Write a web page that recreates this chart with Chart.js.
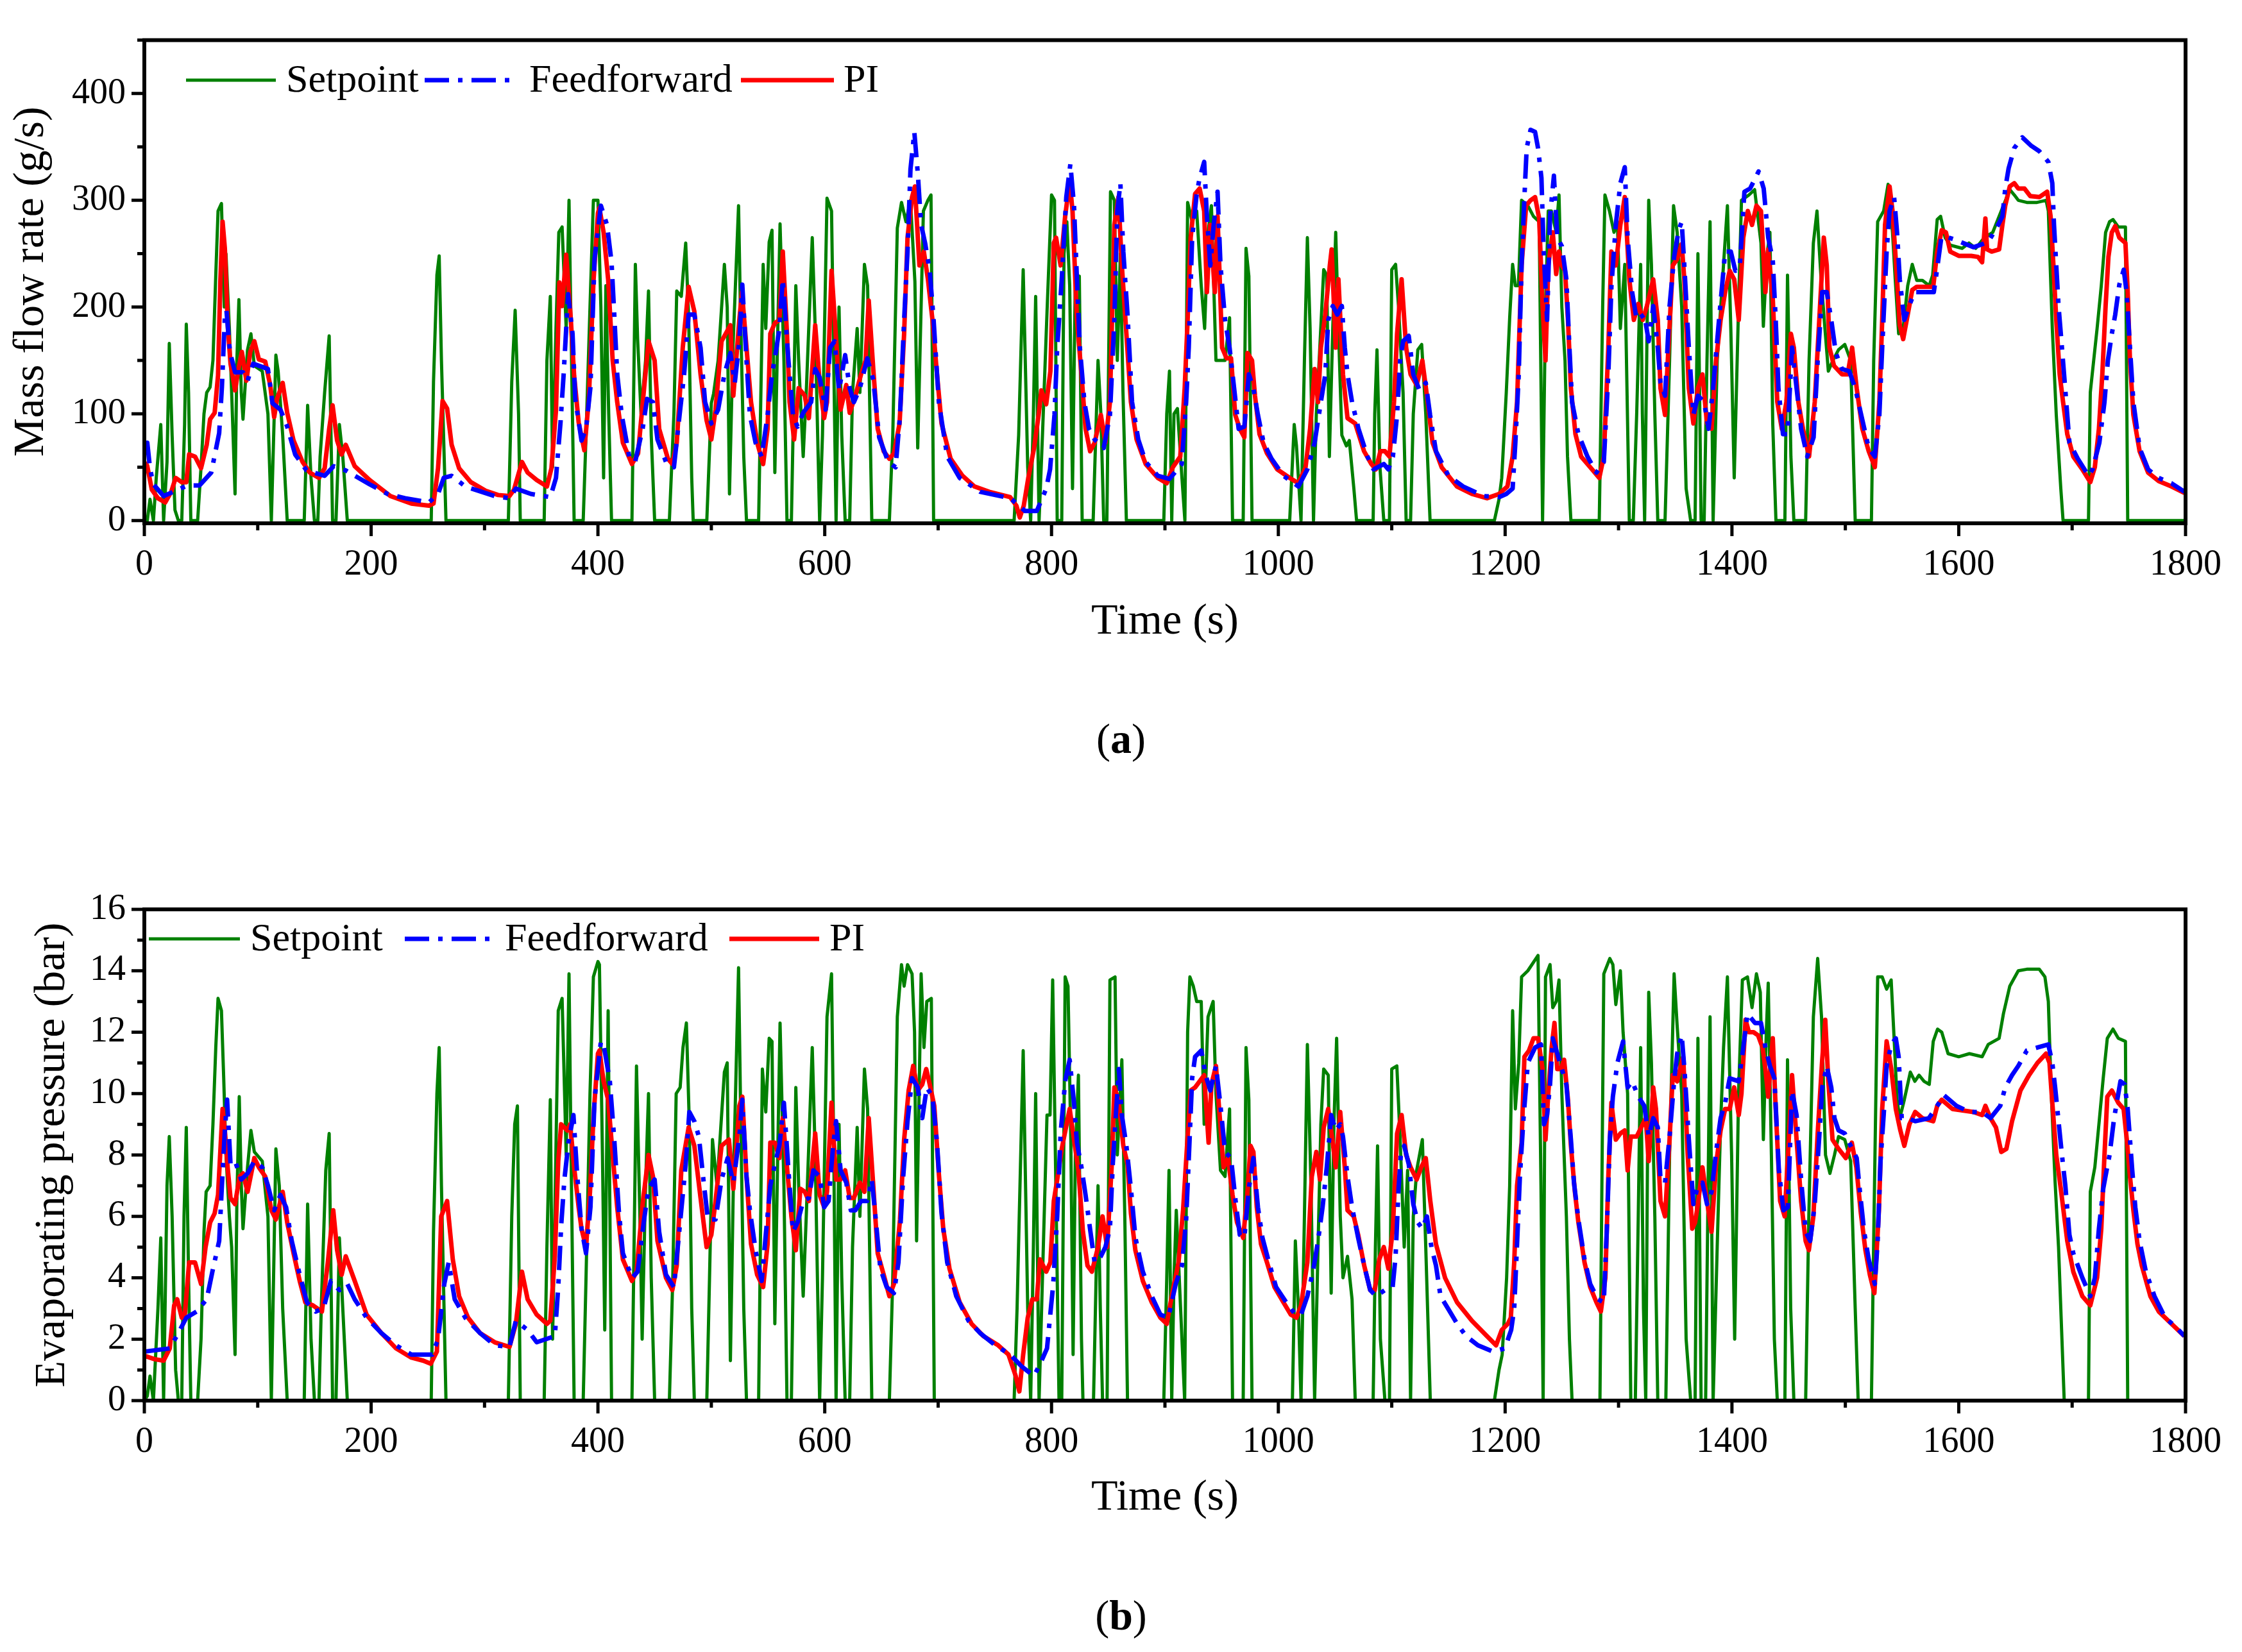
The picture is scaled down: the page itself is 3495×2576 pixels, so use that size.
<!DOCTYPE html>
<html>
<head>
<meta charset="utf-8">
<script src="https://cdn.jsdelivr.net/npm/chart.js@4.4.1/dist/chart.umd.min.js"></script>
<style>
html, body { margin: 0; padding: 0; background: #fff; }
body { width: 3495px; height: 2576px; position: relative; overflow: hidden; font-family: "Liberation Serif", "Times New Roman", serif; }
.box { position: absolute; left: 0; width: 3495px; }
#boxA { top: 0; height: 1050px; }
#boxB { top: 1290px; height: 1110px; }
.cap { position: absolute; left: 0; width: 3495px; text-align: center; font-size: 66px; line-height: 1; color: #000; }
</style>
</head>
<body>
<div id="boxA" class="box"><canvas id="chartA"></canvas></div>
<div id="boxB" class="box"><canvas id="chartB"></canvas></div>
<div class="cap" style="top:1119px">(<b>a</b>)</div>
<div class="cap" style="top:2486px">(<b>b</b>)</div>
<script>
// tick labels
const timeLabels = [0, 200, 400, 600, 800, 1000, 1200, 1400, 1600, 1800];
const flowLabels = [0, 100, 200, 300, 400];
const pressLabels = [0, 2, 4, 6, 8, 10, 12, 14, 16];
const seriesNames = ["Setpoint", "Feedforward", "PI"];

// (a) mass flow rate, [time s, g/s]
const flowSetpoint = [
  [0,0],[2.6,0],[5,20],[8,0],[10.5,40],[14.5,90],[17,0],[20,55],[22,166],[24.5,80],[27,10],[30,0],[33,0],
  [35.5,90],[37,184],[39,120],[41,0],[47,0],[50,50],[52.6,100],[55,120],[58,125],[60.5,150],[63,230],[65,290],
  [68,297],[70.5,200],[72,250],[75,180],[77,120],[80,25],[81.6,150],[83.4,207],[85.5,120],[87,95],[91,160],
  [94,175],[97,145],[104,140],[109,100],[112,0],[116,155],[118,140],[122,80],[126,0],[141,0],[144,108],[147,40],
  [150,0],[153,0],[155,60],[159,120],[163,173],[166,0],[169,0],[172,90],[175,60],[179,0],[253,0],[255,130],
  [258,230],[260,248],[262,150],[266,0],[321,0],[324,130],[327,197],[330,100],[331.5,0],[352.6,0],[355,150],
  [358,210],[360,50],[363,180],[365.5,270],[368.4,275],[372,180],[374.5,300],[376,200],[379,0],[387,0],
  [389.5,80],[393,200],[396,300],[400,300],[402.6,200],[405,40],[407,220],[409.5,100],[412,0],[430,0],[433,240],
  [435,170],[438,100],[442,150],[444.6,215],[447,80],[450,0],[463,0],[467,100],[469.5,215],[473.5,210],
  [477.4,260],[480,190],[482.7,40],[484,0],[496,0],[500,110],[502,119],[506,150],[511.5,240],[514,200],[516,25],
  [519,160],[524,295],[525.6,200],[528.6,60],[531,0],[541.7,0],[545.7,240],[548,180],[551,261],[553.5,272],
  [556,45],[559,200],[560.6,278],[564,150],[566.7,0],[570.6,0],[574.5,220],[577,150],[581,60],[583.7,120],
  [589,265],[591.6,180],[595.5,0],[598,80],[602,302],[606,290],[610,0],[612.6,200],[615,80],[618,0],[622,0],
  [624.5,120],[628.6,180],[631,120],[635,240],[637.8,220],[641.5,0],[657,0],[660,80],[664,274],[667.7,298],
  [671.6,280],[675.6,300],[679.5,224],[682,68],[687,290],[691,300],[693.7,305],[696,0],[767,0],[771,80],
  [775,235],[779,50],[781.6,0],[784,100],[786,210],[789,0],[792,80],[796,195],[800,305],[802.6,300],[805,0],
  [809,0],[811,250],[813.5,280],[816,220],[818.5,30],[821,230],[824.5,229],[827,0],[836.7,0],[841,150],
  [843.5,100],[846,0],[848.8,0],[852,308],[855.4,300],[858,150],[860.7,250],[863,120],[866,0],[899,0],
  [901.6,100],[904,140],[906,0],[908,100],[911,105],[915,40],[917.6,0],[920,298],[924,280],[928,290],[932,220],
  [935,180],[938,270],[941,295],[945,150],[949,150],[953,150],[957,190],[959.6,0],[969,0],[971.5,255],
  [974,229],[976.8,0],[1010,0],[1014,90],[1016,70],[1020,0],[1023,150],[1025.6,265],[1028,180],[1031,0],
  [1033.5,100],[1036,150],[1040,235],[1042.6,230],[1045,60],[1048,180],[1050.6,270],[1053,180],[1056,80],
  [1060,70],[1062.6,75],[1066.6,30],[1069,0],[1083.6,0],[1085,100],[1087,160],[1089.6,50],[1093,0],[1098,0],
  [1100,235],[1103.4,240],[1106,200],[1110,120],[1112.7,0],[1116.6,0],[1119,100],[1123,160],[1126.4,165],
  [1130,100],[1133.8,0],[1190.5,0],[1194.6,20],[1197,40],[1201,120],[1204,190],[1206.6,240],[1209,220],
  [1211.7,220],[1214.5,300],[1220,295],[1225,285],[1230,280],[1233,0],[1235.6,200],[1238,290],[1240.8,290],
  [1245,270],[1247.5,305],[1250,200],[1252.8,150],[1255,60],[1258,0],[1283,0],[1286,200],[1288,305],[1292,290],
  [1296,270],[1299,280],[1301.6,180],[1305.5,240],[1309.5,0],[1313,0],[1316,100],[1319.5,240],[1321,100],
  [1323,0],[1326.6,300],[1329,240],[1332,100],[1334.6,0],[1341,0],[1345,150],[1348.5,295],[1351.7,270],
  [1355.7,200],[1359.6,30],[1363.6,0],[1367.5,0],[1370,250],[1372.8,0],[1375.5,0],[1378,150],[1380.7,280],
  [1383.4,0],[1387,150],[1392.6,240],[1396,295],[1399,180],[1402,40],[1405.8,200],[1408.4,300],[1415,305],
  [1420,310],[1425.6,260],[1427.7,182],[1431,250],[1433.5,270],[1436,90],[1438.8,0],[1446.7,0],[1449,230],
  [1452,60],[1454.6,0],[1465,0],[1468,150],[1471.8,260],[1475,290],[1478.4,230],[1482,180],[1485,140],
  [1489,150],[1494,160],[1499.5,165],[1504.7,150],[1508.7,0],[1523,0],[1525,150],[1528.5,280],[1533.8,290],
  [1537.7,315],[1541.6,270],[1544,226],[1547,175],[1551,180],[1555,220],[1559,240],[1563,225],[1568,225],
  [1574,220],[1577,230],[1581,282],[1584,285],[1588,265],[1592.5,258],[1603,255],[1609,260],[1615,255],
  [1622.5,265],[1630,270],[1637.5,290],[1645,310],[1649,305],[1652.5,300],[1660,298],[1669,298],[1677,300],
  [1679,290],[1682.5,180],[1686,99],[1690,30],[1692,0],[1714.4,0],[1716,120],[1719,150],[1722,180],
  [1725.7,220],[1729.5,270],[1733,280],[1736,282],[1740.7,275],[1747,275],[1749,0],[1800,0]
];
const flowFeedforward = [
  [1,70],[2.6,73],[5,49],[8,34],[17,23],[27.6,28],[38,33],[48.7,33],[59,45],[66,82],[68.4,125],[71,190],
  [72.4,197],[75.5,158],[80,139],[87,139],[91,131],[96,147],[109,142],[113,110],[120,104],[126,88],[133,62],
  [143,47],[159,42],[167,51],[177.6,47],[198.7,34],[214.5,25],[230,21],[251,17],[259,25],[264,40],[271,42],
  [283,32],[309,23],[322,21],[327.6,30],[341,25],[358,22],[363,40],[367,92],[369.7,136],[373.7,212],
  [377.6,175],[380,114],[385.5,75],[389.5,86],[393.4,125],[397,245],[402.6,295],[408,277],[412,242],
  [414.4,193],[417,137],[421,99],[427.6,60],[432.8,55],[439.4,86],[443.3,114],[448.5,111],[452.5,76],[460,55],
  [467,50],[472,99],[476,137],[480,193],[485,193],[490.5,162],[494.5,111],[500,91],[506,104],[511.5,137],
  [516.8,157],[520.7,129],[524.7,168],[527.3,221],[531,150],[534,99],[539,73],[544.4,60],[549.6,99],
  [553.5,137],[557.5,162],[560,180],[563,226],[568,150],[572,99],[576,88],[581,101],[588,111],[591.6,142],
  [595.5,134],[600.8,104],[604.7,162],[608.7,168],[612.6,122],[618,155],[622,124],[625.7,111],[631,124],
  [637.5,152],[642.8,132],[648,78],[656,55],[662.5,50],[666.4,99],[670,188],[673,252],[675.6,329],[679,364],
  [682,326],[685,277],[688.5,260],[692.6,234],[696,188],[700.6,111],[708,60],[719,40],[737,27],[763.5,21],
  [771.5,14],[776.6,9],[787,9],[795.3,30],[798.7,48],[802.6,99],[805,162],[809,226],[813,303],[816.6,334],
  [819.8,295],[822.4,226],[825,162],[829,111],[833,86],[838,76],[846,68],[851.5,99],[855.4,188],[858,290],
  [860.7,316],[863.3,252],[867,193],[871,111],[876.5,76],[883,55],[893.7,42],[904,39],[914.8,53],[918.7,111],
  [921,162],[924,265],[928,306],[930.6,321],[934.6,336],[937,285],[940,239],[943,277],[946.4,308],[949,239],
  [953,188],[957,162],[961,124],[965,86],[970,88],[974,137],[978,124],[982,99],[987,73],[994,58],[1004.5,42],
  [1017.7,32],[1025.6,48],[1032,73],[1037.5,111],[1041.4,137],[1044,188],[1048,201],[1052,193],[1056,201],
  [1058.6,162],[1061,137],[1065,111],[1070.7,86],[1078.6,60],[1084,48],[1093,53],[1097,48],[1101,60],
  [1104.7,99],[1107.4,150],[1110,168],[1115,173],[1119,137],[1124.5,122],[1130,129],[1133.8,99],[1139,65],
  [1150,42],[1163,32],[1181,23],[1194.6,22],[1201,25],[1206.6,30],[1209,73],[1212,137],[1214.5,239],
  [1217,303],[1219,349],[1222.4,366],[1226.4,364],[1229,349],[1232,321],[1234,252],[1237,188],[1239.6,285],
  [1243,323],[1246,265],[1250,257],[1254,226],[1256.7,162],[1259,111],[1264.6,81],[1272.6,60],[1280.5,45],
  [1287,55],[1291,137],[1293.7,219],[1297.6,277],[1301.6,316],[1305.5,331],[1308,265],[1312,214],[1316,188],
  [1322.7,193],[1326.6,168],[1330.6,201],[1334.6,162],[1337,129],[1341,117],[1345,201],[1349,247],[1353,272],
  [1355.7,280],[1358,239],[1362,162],[1366,99],[1370,117],[1375.5,111],[1379.4,86],[1383.4,124],[1388.6,188],
  [1394,252],[1399,252],[1403,234],[1407,239],[1411,308],[1416,311],[1423.5,327],[1428,311],[1432,265],
  [1436,244],[1438.6,188],[1441,124],[1445,81],[1449,81],[1453,162],[1457,124],[1461,86],[1466.4,60],[1472,78],
  [1475.6,150],[1479.6,214],[1483.6,214],[1487.6,188],[1491.6,157],[1497,142],[1503.4,140],[1508.7,124],
  [1514,99],[1520.6,68],[1526,60],[1530,99],[1532.5,162],[1536.4,252],[1539,290],[1543,303],[1545.6,270],
  [1548,226],[1552,188],[1557,203],[1561,214],[1578,214],[1580.7,234],[1584.6,265],[1588.6,266],[1597,263],
  [1613,256],[1626,261],[1633.8,275],[1638.5,285],[1641,311],[1644,330],[1649,349],[1656,359],[1664,351],
  [1671,346],[1679,336],[1682.5,316],[1684,277],[1686,239],[1688,201],[1691,162],[1694,122],[1697.6,73],
  [1705,58],[1714.4,42],[1718,48],[1724,73],[1728.5,111],[1731.5,150],[1735,175],[1738,193],[1741.6,221],
  [1745.5,235],[1748,214],[1751,162],[1754,111],[1759.5,68],[1767,48],[1776.4,40],[1787.6,35],[1799,27]
];
const flowPI = [
  [1,55],[2.6,51],[6.6,29],[12,21],[18.4,17],[23.7,27],[27.6,40],[33,36],[37,36],[39.5,62],[44.7,60],[50,49],
  [55,71],[58,95],[62,101],[65,136],[67,223],[69,280],[71,255],[73.7,180],[76,147],[80,122],[83,142],[86,158],
  [90,131],[93.4,158],[97,168],[101,151],[106.6,149],[111,127],[114.5,97],[117,114],[122,129],[126,101],
  [131.6,75],[139.5,55],[146,45],[154,40],[159,49],[163,86],[166,108],[170,75],[174,62],[177.6,71],[185.5,51],
  [198.7,38],[217,23],[235.5,16],[251,14],[255,16],[259,49],[263,112],[267,105],[271,71],[277.6,49],[288,36],
  [301,28],[312,24],[322,23],[326,29],[333,55],[338,45],[346,38],[355,32],[359,49],[363,103],[366,223],
  [368.4,201],[372,249],[376,190],[379,136],[383,92],[388,66],[392,114],[396,223],[400,288],[401.3,293],
  [405,270],[409,226],[413,150],[417,111],[422,73],[430,53],[435.4,63],[440.7,124],[444.6,168],[450,150],
  [454,86],[461.7,58],[465.6,53],[469.5,73],[474.8,162],[480,219],[485,196],[490.5,137],[495.8,94],[500,76],
  [503.7,104],[509,168],[516.8,183],[519.4,117],[524.7,188],[527,214],[531,162],[535,111],[540.4,73],
  [545.7,53],[549.6,86],[552,175],[556,185],[560,188],[563,252],[566.7,175],[569,111],[573,76],[577,124],
  [582.4,117],[586,96],[591.6,183],[595.5,129],[599.5,96],[602,111],[606,234],[610,170],[614,104],[619,127],
  [622,101],[627,117],[632,137],[636,150],[638.8,206],[642.8,142],[646.7,86],[652,65],[657,58],[661,63],
  [666,91],[670,175],[673,265],[677,303],[679.5,313],[683.5,239],[687.4,252],[691,226],[695,188],[699,137],
  [703,91],[711,58],[721.5,42],[732,32],[745,27],[763.5,22],[769,14],[772,3],[775.5,14],[779.5,40],[784.6,68],
  [788.6,99],[791,122],[795.3,109],[799,140],[802,260],[804,265],[808,239],[812,285],[816,318],[818.5,290],
  [822.4,188],[826.4,137],[830,86],[834,65],[838,73],[843.5,99],[847.5,73],[851.5,111],[855.4,277],[859,303],
  [862,239],[866,175],[870,111],[875,76],[883,53],[893.7,40],[901.6,35],[907,50],[913.5,60],[917.4,124],
  [920,188],[922.7,265],[926.6,306],[930.6,311],[934.6,290],[937,214],[940,277],[944,214],[946.4,285],
  [950.4,162],[954.4,152],[958.3,152],[962,99],[966,86],[970,78],[972.8,157],[976.8,150],[979.4,117],
  [983.4,81],[990,63],[999,48],[1010,40],[1017.7,35],[1024,50],[1028,86],[1032,142],[1035,111],[1037.5,162],
  [1041.4,193],[1045.4,239],[1047,254],[1050.6,162],[1053,226],[1057,137],[1061,96],[1067.8,91],[1075.6,65],
  [1082,53],[1086,48],[1090,65],[1094,65],[1098,60],[1102,111],[1104.7,175],[1108.7,226],[1112.7,162],
  [1116.6,137],[1122,127],[1127,150],[1131,117],[1136,73],[1144,50],[1157.5,32],[1170.7,25],[1184,21],
  [1194.6,25],[1202,32],[1206.6,60],[1210.5,111],[1214.5,239],[1218.5,295],[1222.4,300],[1226.4,303],
  [1230,283],[1233,201],[1235.6,150],[1238,239],[1242,270],[1245,231],[1247.5,252],[1250,239],[1252.8,234],
  [1255.4,188],[1258,124],[1262,81],[1267,60],[1275,50],[1283,40],[1287,60],[1291,162],[1293.7,252],
  [1297.6,239],[1301.6,277],[1305.5,303],[1309.5,226],[1313.5,188],[1317.4,203],[1321.4,188],[1325,201],
  [1330.6,226],[1334.6,188],[1337,124],[1341,99],[1344,162],[1347.8,239],[1351.7,245],[1355.7,259],[1358,226],
  [1362,124],[1366,91],[1370,124],[1374,137],[1378,91],[1382,86],[1386,150],[1390,188],[1394,214],[1398,234],
  [1402,226],[1406,188],[1410,265],[1414,290],[1417.7,277],[1421.6,295],[1425.6,290],[1429.5,214],[1432,254],
  [1436,208],[1440,111],[1444,86],[1448,111],[1452,175],[1454.6,162],[1458.6,111],[1462.6,86],[1468,60],
  [1473,111],[1477,188],[1481,265],[1483.6,239],[1486,162],[1490,145],[1497,137],[1502,137],[1506,162],
  [1510,124],[1515,86],[1520.6,65],[1526,50],[1530,111],[1532.5,188],[1535,277],[1539,313],[1541.6,290],
  [1545.6,226],[1548,183],[1551,170],[1555,193],[1559,216],[1563,219],[1577.5,219],[1581,252],[1585,272],
  [1588.7,270],[1592.5,252],[1600,248],[1611,248],[1617,247],[1620.6,242],[1623.5,283],[1625,254],[1629,252],
  [1635.6,254],[1638.5,277],[1641,295],[1645,313],[1649,316],[1652.5,311],[1658,311],[1663,304],[1671,303],
  [1678,308],[1681,285],[1683.5,239],[1686,188],[1689,137],[1692,111],[1695.7,81],[1701,60],[1709,48],
  [1716,36],[1720,50],[1723.6,86],[1726.6,137],[1729.5,201],[1732,247],[1735,270],[1738,276],[1741.6,265],
  [1747,260],[1749,214],[1751,150],[1754,99],[1759.5,65],[1767,45],[1776.4,37],[1787.6,32],[1799,26]
];

// (b) evaporating pressure, [time s, bar]
const pressSetpoint = [
  [0,0],[2.6,0.15],[5,0.8],[8,0],[12,3],[14.5,5.3],[17,0],[20,7],[22,8.6],[24.5,6],[27.6,1],[30,0],[33,0],
  [35,6],[37,8.9],[39,4],[41,0],[47,0],[50,2],[52.6,5.5],[54.5,6.8],[58,7],[60.5,9],[63,11.5],[65,13.1],
  [68,12.7],[70,10.5],[72,8],[75,6],[77,5],[80,1.5],[81.6,6.5],[83.7,9.9],[85.5,7],[87,5.6],[91,7.6],[94,8.8],
  [97,8.1],[104,7.8],[109,6],[112,0],[116,8.2],[119,7],[122,3],[126,0],[141,0],[144,6.4],[147,2],[150,0],
  [154,0],[156,3],[160,7.5],[163,8.7],[166,0],[169,0],[172,5.3],[175,3],[179,0],[253,0],[255,5.5],[258,10],
  [260,11.5],[262,7],[266,0],[321,0],[324,6],[326.6,9],[329,9.6],[331.5,0],[352.6,0],[355,5],[358,9.8],[360,2],
  [362,6],[365,12.7],[368.4,13.1],[372,8],[374.5,13.9],[376,9],[379,0],[387,0],[389.5,4],[393,10],[396,13.8],
  [400,14.3],[401.3,14.2],[404,8],[406,2.3],[409,12.7],[412,0],[430,0],[434,10.9],[437,6],[439,2],[442,7],
  [444.6,10],[447,4],[450,0],[463,0],[466,4],[469,10],[472.5,10.2],[475,11.5],[478,12.3],[480.6,9],[482.7,3],
  [485,0],[496,0],[498.4,4],[501,8.5],[505,7],[511.5,10.7],[514,11],[516.8,1.3],[519.4,7],[524,14.1],
  [525.6,10],[528.6,3],[531,0],[541.7,0],[545,10.8],[548,9.4],[551,11.8],[553.5,11.7],[556,2.5],[559,9],
  [560.6,12.3],[564,7],[566.7,0],[570.6,0],[574.5,10.2],[577,7],[581,3.4],[583.7,6],[589,11.5],[591.6,8],
  [595.5,0],[598,4],[602,12.5],[606,13.9],[608,8],[610,0],[612.6,9],[615,4],[618,0],[622,0],[624.5,5],
  [628.6,8.9],[631,6],[635,10.8],[637.8,9.5],[641.5,0],[657,0],[660,4],[664,12.5],[667.7,14.2],[670,13.5],
  [673,14.2],[677,13.9],[679.2,12],[681,5.2],[685,13.9],[687.5,11.5],[690,13],[694,13.1],[696.6,0],[767,0],
  [769.6,3],[775,11.4],[779,3],[781.6,0],[784,5],[786,10],[789,0],[792,4],[796,9.3],[798.7,9.3],[801,13.7],
  [803.4,8],[806.6,0],[809,0],[812,13.8],[814.5,13.5],[817,8.5],[819,1.5],[821,8],[823.7,10.6],[826.4,2],
  [827.7,0],[837,0],[841,7],[843,3],[845,0],[849,0],[851.5,13.7],[856,13.8],[858,8],[862,11.1],[864.6,6],
  [867,0],[899,0],[901.6,4],[903.6,7.5],[906,0],[908,4],[910,6.2],[915,2],[917.4,0],[920,12],[922,13.8],
  [925,13.5],[928,13],[932,13],[934.6,9],[938,12.5],[942.5,13],[945,10],[949,7.5],[953,7.3],[957,9.5],
  [959.6,0],[969,0],[971.5,11.5],[974,9.8],[976.8,0],[1012.4,0],[1015,5.2],[1017.7,3],[1020,0],[1023,6],
  [1025.6,11.6],[1028.8,7],[1032,0],[1035,5],[1037.5,9],[1040,10.8],[1044,10.6],[1046.6,3.5],[1049,9],
  [1051.4,11.8],[1054.6,6],[1057,4],[1061,4.7],[1065,3.3],[1067.8,0],[1083.6,0],[1085.6,5],[1087.5,8.3],
  [1090,2],[1094,0],[1098,0],[1100,10.8],[1104.5,10.9],[1107.4,8.5],[1111,5],[1114,7.5],[1116.6,0],[1119,6],
  [1122,7.5],[1127,8.5],[1130,5],[1134,0],[1190.5,0],[1194.6,1],[1197.4,1.5],[1201.3,4],[1204,7],[1206.6,12.7],
  [1209,9.5],[1212,11],[1214.5,13.8],[1220,14],[1229,14.5],[1231.6,7],[1233.5,0],[1235.6,13.8],[1239.6,14.2],
  [1242,12.8],[1245,13],[1247.5,13.7],[1250,10],[1254,6],[1256.7,2],[1259,0],[1283.6,0],[1285.8,9],[1287,13.9],
  [1292.3,14.4],[1295,14.2],[1297.6,12.9],[1301.6,14],[1304,12],[1308,10],[1310.8,0],[1314.8,0],[1317.4,6],
  [1319.5,11.5],[1322,3],[1324,0],[1326.6,13.3],[1329,11],[1332,6],[1334.6,0],[1341.7,0],[1345,8],[1349,13.9],
  [1351.7,12.2],[1355.7,10],[1359.6,2],[1363.6,0],[1367.5,0],[1370,11.8],[1372.8,0],[1376.8,0],[1380.7,12.5],
  [1383.4,0],[1387,5],[1390,9],[1392.6,11.5],[1396,13.8],[1399.7,8],[1402.4,2],[1405.8,10],[1409.2,13.7],
  [1413.7,13.8],[1417.7,12.8],[1421.6,13.9],[1425,13.3],[1427.7,8.5],[1430.3,12],[1432,13.6],[1434.8,8],
  [1437.4,2],[1440,0],[1446.7,0],[1449,11.1],[1451.8,3],[1454.6,0],[1465,0],[1467.8,6],[1471.8,12.5],
  [1475.6,14.4],[1479,12.5],[1482.5,8],[1486.4,7.4],[1490.4,8],[1494,8.6],[1499.5,8.5],[1504.7,7.8],
  [1508.7,3],[1511.3,0],[1523,0],[1525.3,6],[1528.5,13.8],[1532.5,13.8],[1536.4,13.4],[1540.4,13.7],
  [1543,11.8],[1545.6,9.8],[1548,9.2],[1552,9.8],[1557.3,10.7],[1561.3,10.4],[1565,10.6],[1569.4,10.4],
  [1574,10.3],[1577.5,11.7],[1581.3,12.1],[1585,12],[1590.6,11.3],[1600,11.2],[1609.4,11.3],[1620.6,11.2],
  [1626,11.6],[1635.6,11.8],[1639.4,12.6],[1645,13.5],[1652.5,14],[1660,14.05],[1671,14.05],[1676,13.8],
  [1679,13],[1681.6,10],[1685,7.1],[1688,5],[1691,2],[1693,0],[1714.4,0],[1716,6.8],[1720,7.6],[1723.6,9],
  [1727.4,10.5],[1731,11.8],[1736,12.1],[1740.7,11.8],[1747,11.7],[1749,0],[1800,0]
];
const pressFeedforward = [
  [1,1.6],[22.4,1.7],[30,2.2],[37,2.7],[46,2.9],[55,3.3],[60,4.2],[66,5.2],[68.4,7],[71,8.8],[73,9.8],[76,7.7],
  [80,7.8],[85.5,7.2],[91,7.4],[97,7.8],[104,7.6],[109,7],[114.5,6.2],[120,6.7],[125,6.3],[130,5.2],[137,4.1],
  [143.4,3.2],[151,2.9],[158,3],[164.5,3.9],[172,3.6],[179,3.8],[185.5,3.3],[196,2.7],[209,2.2],[222,1.8],
  [235.5,1.5],[254,1.5],[259,2],[264.5,3.8],[268.4,4.5],[273.7,3.3],[283,2.7],[296,2.2],[309,1.8],[322,1.75],
  [327.6,2.6],[338,2.3],[346,1.9],[362,2.1],[365,3.7],[367.6,5.7],[370.4,7.2],[374,8.4],[378.4,9.3],
  [381.6,7.4],[385.5,5.6],[389.5,4.8],[393.4,6.3],[397,9.8],[402.6,11.7],[405,11.6],[410.5,10.4],[414.4,8.5],
  [418.4,6.2],[422,4.8],[430,4],[435,4.2],[440.7,5.9],[444.6,6.9],[450,7.2],[454,5.5],[460,4.1],[467,3.7],
  [473.5,6.2],[477.4,7.7],[480.6,9.4],[485,9.1],[489,8.6],[493,7.2],[497,5.9],[503.7,5.9],[509,7.2],
  [514.4,7.9],[519.4,7.1],[524.7,8.6],[527.3,9.8],[531,7.3],[534,6.2],[539,4.9],[544.4,3.9],[548,5.4],[552,7],
  [556,7.7],[560,8.3],[564,9.7],[568,7.5],[572,5.5],[576,5.8],[581,6.5],[586,6.6],[590,7.5],[595.5,7.3],
  [599.5,6.3],[603.4,6.5],[607.4,8.3],[610,9.1],[614,7.5],[619,7.1],[623,6.2],[627,6.2],[632,6.5],[637.5,6.5],
  [641.5,7.2],[645,5.9],[649,4.3],[654.6,3.7],[661,3.5],[665,4.5],[669,7.2],[673,9.1],[677,10.5],[682,10.2],
  [686,9.2],[690,10.2],[695,9.9],[699,8.4],[703,6.1],[708,4.5],[716,3.4],[726.8,2.6],[737,2.2],[750.4,1.8],
  [763.5,1.5],[774,1.1],[784.5,0.8],[790,1.2],[796,1.7],[801.5,3.8],[805,6],[808,8.7],[812,10.4],[816,11.1],
  [819.8,9.7],[822.4,8.4],[826.4,7.6],[830,6.7],[834.3,5.5],[838,4.5],[843.5,4.7],[847.5,5],[851.5,5.6],
  [854,7.7],[856.7,9.3],[859.4,10.8],[862,9.3],[866,8.3],[870,6.9],[874,5.3],[880.5,4.2],[888.4,3.4],[896,2.8],
  [903,2.7],[909.5,3.8],[915,4.4],[918.7,5.9],[921.4,8.2],[924,10.5],[926.6,11.2],[932,11.4],[935.9,10.6],
  [940,10.1],[945,10.9],[949,9.6],[953,8.1],[958.3,7.9],[962,6.6],[966,5.4],[970,5.3],[974,6.9],[978,7.9],
  [982,6.3],[986,5.3],[991,4.6],[998,3.7],[1007,3.2],[1015,2.8],[1020,2.8],[1025.6,3.4],[1031,4.3],[1035,5.2],
  [1039,6.3],[1042.7,7.6],[1046.6,9.3],[1050.6,8.8],[1054.6,9],[1057,8.6],[1061,7.3],[1065,6.3],[1070.4,5.3],
  [1075.7,4.4],[1081,3.6],[1086.3,3.4],[1094,3.6],[1100.8,3.7],[1103.4,4.7],[1106,6.9],[1108,8],[1111,8.3],
  [1115,7.7],[1119,6.4],[1123,5.8],[1127,5.6],[1131,6],[1135,5],[1139,4.4],[1143,3.4],[1149.6,3],[1157.7,2.5],
  [1165.6,2.1],[1176,1.8],[1189,1.6],[1199.7,1.7],[1205.3,2.3],[1208,3],[1210.5,5.1],[1213,7.3],[1216,9.1],
  [1220,11],[1226.4,11.5],[1231.6,11.6],[1234.3,9],[1237,9.3],[1239.6,10.3],[1242,11.8],[1246,11.3],
  [1250,10.8],[1254,10.3],[1258,8.5],[1260.7,7.1],[1264.6,5.9],[1270,4.6],[1275,3.8],[1281.8,3.3],[1287,3.2],
  [1289.6,5.5],[1292.3,8.5],[1295,9.9],[1299,11],[1304,11.7],[1308,10.2],[1312,10.4],[1317.4,9.9],
  [1322.7,9.6],[1326.6,8.6],[1330.6,9.2],[1334.6,8.9],[1337,7.2],[1341,7.1],[1345,8.6],[1349,10.4],
  [1351.7,11.3],[1355.7,11.9],[1358.3,10.7],[1362,8.5],[1366,6.4],[1370,7],[1374,7.1],[1378,6.4],[1382,6.8],
  [1386,8.1],[1390,9.2],[1394,9.7],[1398,10.5],[1406,10.4],[1410,11.5],[1413.7,12.6],[1420.3,12.3],
  [1425.6,12.3],[1429.5,11.5],[1433.5,10.9],[1437.4,10.5],[1441.4,7.5],[1445.4,6.2],[1449.3,6.3],[1453,10.1],
  [1457,9.3],[1461,7.2],[1465,5.5],[1469,5.2],[1473,6.4],[1477,8.6],[1479.6,10.2],[1483.6,10.9],[1487.6,10.2],
  [1490.4,9.2],[1494,8.8],[1499.5,8.7],[1504.7,8.3],[1510,7.9],[1512.6,6.9],[1516.6,5.5],[1520.6,4.6],
  [1526,3.8],[1528.5,5.2],[1531,7.8],[1533.8,9.3],[1536.4,10.9],[1540.5,11.6],[1544.5,11.8],[1547,11.2],
  [1549.7,9.2],[1555,9.2],[1561.6,9.1],[1573.7,9.2],[1581,9.6],[1586.9,9.95],[1598,9.6],[1609.4,9.4],
  [1620.6,9.4],[1628,9.2],[1636.6,9.6],[1641,10.2],[1647,10.6],[1652.5,10.9],[1660,11.4],[1669.4,11.5],
  [1679,11.6],[1682.5,11],[1685,10.2],[1688,9.1],[1691,8],[1694,7],[1697.6,5.4],[1701,4.8],[1709,4],[1716,3.4],
  [1720,4],[1723.6,5.6],[1727.4,6.9],[1730.4,7.5],[1733,8],[1737,9.2],[1742.6,10.4],[1746.3,10.3],[1749,9.5],
  [1751,8.5],[1753,7.5],[1755.7,6.3],[1759.5,5.2],[1765,4.2],[1772.6,3.4],[1782,2.7],[1791.4,2.4],[1799,2.1]
];
const pressPI = [
  [1,1.45],[9,1.35],[17,1.3],[22.4,1.7],[26.3,3.1],[29,3.3],[33,2.7],[35.5,2.7],[39.5,4.5],[44.7,4.5],[50,3.8],
  [54,5],[58,5.8],[62,6.1],[65,6.7],[69,9.5],[71,8.8],[73.7,7.5],[76,6.6],[80,6.4],[84,7.3],[87,7.4],[91,6.8],
  [97,7.9],[101,7.6],[106.6,7.3],[112,6.2],[116,5.9],[122,6.8],[126,5.8],[131.6,4.8],[137,3.9],[142,3.2],
  [148.7,3.1],[156.6,2.9],[161.8,4.5],[166.6,6.2],[170,4.9],[174,4.1],[177.6,4.7],[185.5,3.9],[196,2.8],
  [209,2.2],[222,1.7],[235.5,1.4],[246,1.3],[252.6,1.2],[258,1.6],[261.8,6],[267,6.5],[272,4.6],[277.6,3.4],
  [285.5,2.7],[296,2.2],[309,1.9],[322,1.75],[327.6,2.5],[333,4.2],[338,3.3],[346,2.8],[355,2.5],[358,2.6],
  [362,4.7],[365,7.8],[367.6,9],[373,8.8],[375.5,9],[379,7.6],[383,6.3],[385.5,5.6],[389.5,5],[393,6.8],
  [396,9.2],[400,11.3],[401.3,11.4],[405,10.4],[409,9.8],[413,8],[417,6.3],[422,4.6],[430,3.9],[434,4.2],
  [439.4,6.4],[444.6,8],[448.5,7.3],[452.5,5.2],[460,4],[465.6,3.6],[469.5,4.4],[473.5,7.5],[480,8.9],[485,8.3],
  [490.5,6.6],[495.8,5],[500,5.4],[503.7,6.5],[509,8.3],[515.5,8.5],[519.4,6.9],[524.7,9.6],[527.3,9.9],
  [531,7.3],[535,5.1],[540.4,4.1],[545.7,3.7],[549.6,5.1],[552,8.4],[556,8.4],[560,7.9],[563,9.2],[566.7,7.6],
  [570.6,6],[574.5,4.9],[578.5,6.9],[582.4,6.8],[586,6.5],[591.6,8.7],[595.5,6.7],[599.5,6.3],[602,6.8],
  [606,9.7],[610,7.2],[614,7.2],[618,7.5],[622,6.6],[625.7,6.6],[631,7.1],[635,6.8],[638.8,9.2],[642.8,7],
  [646.7,4.8],[652,4.1],[657,3.4],[661,3.8],[666.4,5.9],[670,8.5],[674,10.1],[678,10.9],[682,10.1],[686,10.3],
  [689.5,10.8],[692.6,10.3],[696.6,9.6],[700.6,7.4],[704.5,5.6],[710,4.3],[719,3.2],[729.5,2.5],[740,2.1],
  [753,1.8],[762,1.5],[768.4,0.8],[771.6,0.3],[775,1.5],[779,2.7],[783,3.3],[787,3.3],[789.8,4.6],[795.3,4.2],
  [799,4.5],[802,6.5],[805,7.2],[809,8.2],[816,9.5],[819.8,8.5],[823.7,7.5],[827.7,5.5],[831.7,4.4],
  [835.6,4.2],[841,5],[845,6],[849,5],[853,7.6],[855.4,10.2],[859,9.8],[863.3,8.3],[867,7.7],[870,6.1],
  [873.9,4.9],[880.5,3.9],[888.4,3.2],[896,2.7],[901.6,2.5],[907,3.6],[912,4.5],[916,6.2],[920,8.6],
  [922.7,10.1],[926.6,10.2],[930.6,10.4],[934.6,10.6],[938.5,8.4],[941,10.3],[945,10.9],[947.8,9.5],
  [951.7,7.6],[955.7,7.9],[959.6,6.7],[963.6,5.8],[969,5.3],[972.8,6.8],[975.5,8.3],[978,8.1],[981,6.3],
  [984.7,5.1],[990,4.5],[996.6,3.7],[1004.5,3.2],[1011,2.8],[1016,2.7],[1020,3.1],[1025.6,4.5],[1029.5,7.3],
  [1033.5,8.1],[1036.7,7.2],[1040,8.9],[1044,9.5],[1048,8.4],[1050.6,7.6],[1054.6,9.4],[1058.6,7.6],[1061,6.2],
  [1066.5,6],[1070.4,5.4],[1075.7,4.4],[1081,3.6],[1085,3.6],[1089,4.6],[1093,5],[1097,4.3],[1101,5.6],
  [1104.7,8.7],[1108.7,9.3],[1112.7,8],[1116.6,7.6],[1122,7.2],[1126,7.6],[1130,7.9],[1134,6.5],[1139,5.1],
  [1147,4],[1157.6,3.2],[1170.7,2.6],[1184,2.1],[1192,1.8],[1197,2.3],[1202.4,2.5],[1205,2.7],[1208,4.5],
  [1210.5,7],[1214.5,8.4],[1217,11.2],[1221,11.4],[1225,11.8],[1229,11.8],[1233,10.8],[1235.6,8.5],[1238,10],
  [1241,11.5],[1243.5,12.3],[1246,10.8],[1249,10.8],[1252,11.1],[1255.4,9.8],[1258,8.3],[1261.5,6.8],
  [1264.6,5.8],[1270,4.5],[1275,3.7],[1280.5,3.2],[1284.4,2.9],[1288.4,4],[1291,7.3],[1293.7,9.7],[1297.6,8.5],
  [1301.6,8.7],[1305.5,8.8],[1308,7.5],[1310.8,8.6],[1316,8.6],[1320,8.9],[1324,9.2],[1326.6,7.8],[1330.6,10.2],
  [1333,9.5],[1337,6.5],[1341,6],[1345,8.5],[1347.8,10.6],[1351.7,10.4],[1357,11.2],[1361,8],[1365,5.6],
  [1367.5,5.8],[1370,6.4],[1374,7.6],[1378,6.5],[1382,5.5],[1386,7.7],[1390,8.8],[1394,9.5],[1398,9.5],
  [1402,10.2],[1406,9.3],[1408.4,10],[1412,12.4],[1415,12],[1419,12],[1423,11.9],[1427,11.5],[1429.5,10.8],
  [1432,9.9],[1436,11.8],[1438.6,9.5],[1442.5,6.5],[1446.5,6],[1449.7,8.2],[1453,10.6],[1457,8.5],[1461,6.5],
  [1465,5.2],[1467.8,4.9],[1471.8,6],[1475.6,8.7],[1479.6,11.1],[1482.3,12.4],[1485,10.4],[1488.7,8.5],
  [1494,8.2],[1500.4,7.9],[1505.7,8.4],[1509.7,7.6],[1513.7,6.1],[1517.7,4.9],[1521.6,4.1],[1525.6,3.5],
  [1529.6,6.2],[1532.5,9.5],[1536.4,11.7],[1540.5,10.8],[1544.5,9.5],[1548.5,8.8],[1552,8.3],[1556.5,9],
  [1561.6,9.4],[1568,9.2],[1577.5,9.1],[1581,9.6],[1585,9.8],[1594.4,9.5],[1613,9.4],[1620.6,9.3],[1623.5,9.6],
  [1628,9.2],[1632.8,8.9],[1637.5,8.1],[1642,8.2],[1647,9.1],[1654.4,10.1],[1662,10.6],[1669.4,11],[1677,11.3],
  [1680,11],[1682.5,9.7],[1686,8],[1690,6.9],[1695.7,5.2],[1701,4.2],[1709,3.4],[1716,3.1],[1722,4],
  [1725.7,5.6],[1728.5,8],[1731,9.9],[1735,10.1],[1740.7,9.7],[1745.4,9.5],[1748.2,8.5],[1751,7.3],[1754,6.2],
  [1757.6,5.1],[1761.4,4.4],[1769,3.4],[1776.4,2.9],[1787.6,2.5],[1799,2.1]
];

const FONT = '"Liberation Serif", "Times New Roman", serif';
Chart.defaults.font.family = FONT;
Chart.defaults.color = '#000';

const GREEN = '#008000';
const BLUE = '#0000ff';
const RED = '#ff0000';
const DASHDOT = [38, 14, 7, 14];

function pts(arr) {
  return arr.map(p => ({x: p[0], y: p[1]}));
}

// frame round the plot area and outward tick marks, major ones longer
const frameTicks = {
  id: 'frameTicks',
  afterDatasetsDraw(chart, args, opts) {
    const ctx = chart.ctx;
    const a = chart.chartArea;
    const sx = chart.scales.x, sy = chart.scales.y;
    ctx.save();
    ctx.strokeStyle = '#000';
    ctx.lineWidth = 5;
    ctx.beginPath();
    sx.ticks.forEach(t => {
      const px = sx.getPixelForValue(t.value);
      const len = timeLabels.includes(t.value) ? 20 : 11;
      ctx.moveTo(px, a.bottom);
      ctx.lineTo(px, a.bottom + len);
    });
    sy.ticks.forEach(t => {
      const py = sy.getPixelForValue(t.value);
      const len = opts.majorY.includes(t.value) ? 20 : 11;
      ctx.moveTo(a.left, py);
      ctx.lineTo(a.left - len, py);
    });
    ctx.stroke();
    ctx.lineWidth = 6;
    ctx.strokeRect(a.left, a.top, a.right - a.left, a.bottom - a.top);
    ctx.restore();
  }
};

// legend drawn inside the plot, one row
const rowLegend = {
  id: 'rowLegend',
  afterDraw(chart, args, opts) {
    const ctx = chart.ctx;
    ctx.save();
    opts.items.forEach(it => {
      const ds = chart.data.datasets.find(d => d.label === it.label);
      ctx.strokeStyle = ds.borderColor;
      ctx.lineWidth = ds.borderWidth;
      ctx.setLineDash(ds.borderDash || []);
      ctx.beginPath();
      ctx.moveTo(it.x1, opts.y);
      ctx.lineTo(it.x2, opts.y);
      ctx.stroke();
      ctx.setLineDash([]);
      ctx.fillStyle = '#000';
      ctx.font = '62px ' + FONT;
      ctx.textBaseline = 'middle';
      ctx.textAlign = 'left';
      ctx.fillText(it.label, it.tx, opts.y + 2);
    });
    ctx.restore();
  }
};

function makeChart(id, sp, ff, pi, cfg) {
  return new Chart(document.getElementById(id), {
    type: 'line',
    data: {
      datasets: [
        {label: seriesNames[1], data: pts(ff), borderColor: BLUE, borderWidth: 7, borderDash: DASHDOT},
        {label: seriesNames[2], data: pts(pi), borderColor: RED, borderWidth: 7},
        {label: seriesNames[0], data: pts(sp), borderColor: GREEN, borderWidth: 5}
      ]
    },
    options: {
      responsive: true,
      maintainAspectRatio: false,
      animation: false,
      elements: {
        point: {radius: 0},
        line: {tension: 0, fill: false, borderJoinStyle: 'round'}
      },
      layout: {padding: {top: cfg.padTop, right: 80, left: 0, bottom: 0}},
      plugins: {
        legend: {display: false},
        tooltip: {enabled: false},
        frameTicks: {majorY: cfg.yLabels},
        rowLegend: {y: cfg.legendY, items: cfg.legend}
      },
      scales: {
        x: {
          type: 'linear',
          min: 0,
          max: 1800,
          afterFit: s => { s.height = cfg.xHeight; },
          grid: {display: false, drawTicks: false},
          border: {display: false},
          ticks: {
            stepSize: 100,
            autoSkip: false,
            maxRotation: 0,
            padding: 32,
            font: {size: 56},
            color: '#000',
            callback: v => timeLabels.includes(v) ? String(v) : ''
          },
          title: {
            display: true,
            text: 'Time (s)',
            font: {size: 68},
            color: '#000',
            padding: {top: 0, bottom: cfg.xTitlePad}
          }
        },
        y: {
          min: cfg.yMin,
          max: cfg.yMax,
          afterFit: s => { s.width = 225; },
          afterBuildTicks: s => {
            const list = [];
            const n = Math.floor(cfg.yMax / cfg.yStep + 1e-9);
            for (let i = 0; i <= n; i++) list.push({value: Math.round(i * cfg.yStep * 1000) / 1000});
            s.ticks = list;
          },
          grid: {display: false, drawTicks: false},
          border: {display: false},
          ticks: {
            autoSkip: false,
            padding: 29,
            font: {size: 56},
            color: '#000',
            callback: v => cfg.yLabels.includes(v) ? String(v) : ''
          },
          title: {
            display: true,
            text: cfg.yTitle,
            font: {size: 68},
            color: '#000',
            padding: {top: cfg.yTitlePad, bottom: 0}
          }
        }
      }
    },
    plugins: [frameTicks, rowLegend]
  });
}

makeChart('chartA', flowSetpoint, flowFeedforward, flowPI, {
  padTop: 51, xHeight: 234, xTitlePad: 39, yTitlePad: 8,
  yMin: -2.5, yMax: 450, yStep: 50, yLabels: flowLabels,
  yTitle: 'Mass flow rate (g/s)',
  legendY: 125,
  legend: [
    {label: seriesNames[0], x1: 290, x2: 430, tx: 446},
    {label: seriesNames[1], x1: 662, x2: 807, tx: 825},
    {label: seriesNames[2], x1: 1155, x2: 1300, tx: 1315}
  ]
});

makeChart('chartB', pressSetpoint, pressFeedforward, pressPI, {
  padTop: 128, xHeight: 216, xTitlePad: 23, yTitlePad: 41,
  yMin: 0, yMax: 16, yStep: 1, yLabels: pressLabels,
  yTitle: 'Evaporating pressure (bar)',
  legendY: 174,
  legend: [
    {label: seriesNames[0], x1: 232, x2: 374, tx: 390},
    {label: seriesNames[1], x1: 631, x2: 773, tx: 787},
    {label: seriesNames[2], x1: 1137, x2: 1277, tx: 1293}
  ]
});
</script>
</body>
</html>
